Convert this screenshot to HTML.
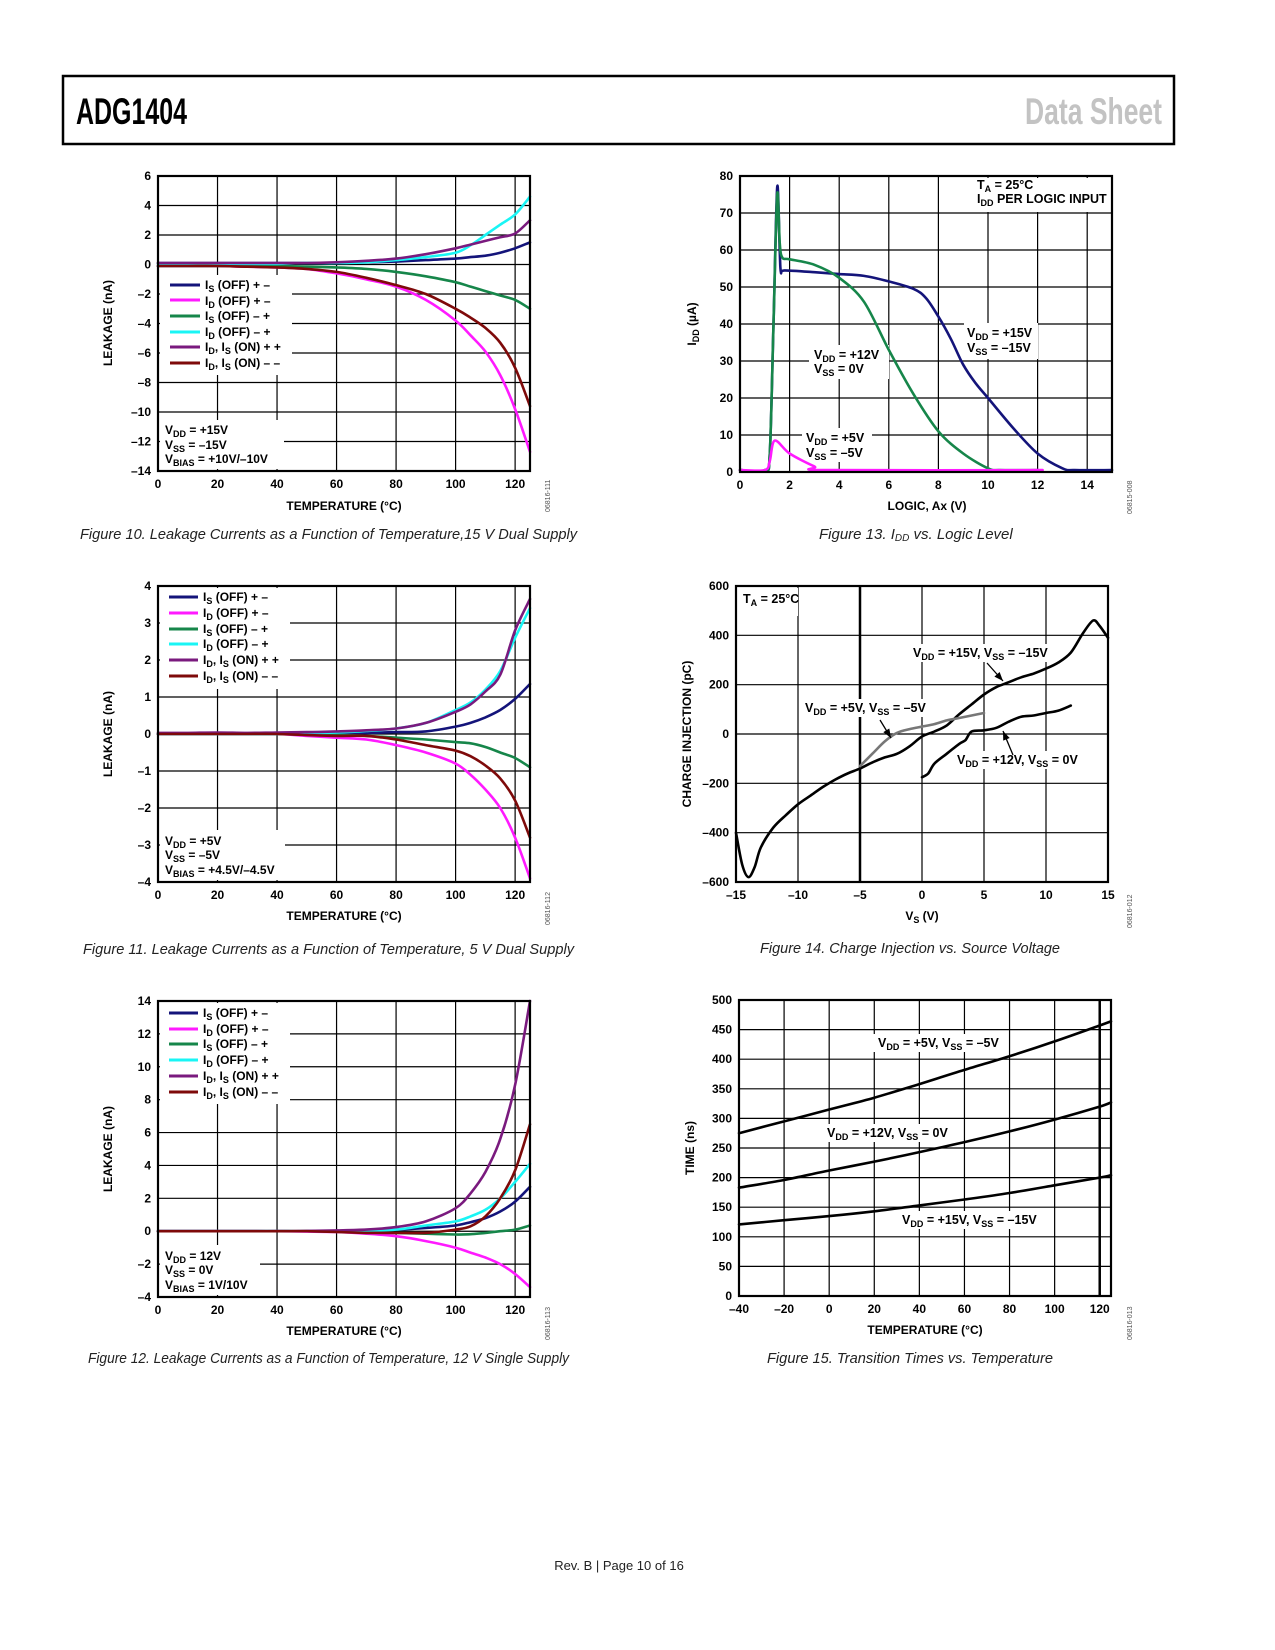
<!DOCTYPE html>
<html><head><meta charset="utf-8"><style>
html,body{margin:0;padding:0;background:#fff;}
svg{display:block;font-family:"Liberation Sans",sans-serif;}
.tk{font-size:12px;font-weight:bold;fill:#000;}
.at{font-size:12px;font-weight:bold;fill:#000;}
.lg{font-size:12px;font-weight:bold;fill:#000;}
.an{font-size:12.5px;font-weight:bold;fill:#000;}
.cap{font-size:15px;font-style:italic;fill:#222;}
.id{font-size:7px;fill:#555;}
</style></head><body>
<svg id="page" width="1275" height="1650" viewBox="0 0 1275 1650" xmlns="http://www.w3.org/2000/svg">
<rect x="0" y="0" width="1275" height="1650" fill="#fff"/>
<g>
<rect x="63" y="76" width="1111" height="68" fill="none" stroke="#000" stroke-width="2.5"/>
<text x="76" y="124" font-size="37" font-weight="bold" textLength="111" lengthAdjust="spacingAndGlyphs">ADG1404</text>
<text x="1025" y="124" font-size="37" font-weight="bold" fill="#c3c3c3" textLength="137" lengthAdjust="spacingAndGlyphs">Data Sheet</text>
</g>
<g id="charts"></g>
<g id="texts">
<!-- Fig 10 -->
<g>
<text class="lg" x="205" y="289">I<tspan font-size="9" dy="3">S</tspan><tspan dy="-3"> (OFF) + –</tspan></text>
<text class="lg" x="205" y="305">I<tspan font-size="9" dy="3">D</tspan><tspan dy="-3"> (OFF) + –</tspan></text>
<text class="lg" x="205" y="320">I<tspan font-size="9" dy="3">S</tspan><tspan dy="-3"> (OFF) – +</tspan></text>
<text class="lg" x="205" y="336">I<tspan font-size="9" dy="3">D</tspan><tspan dy="-3"> (OFF) – +</tspan></text>
<text class="lg" x="205" y="351">I<tspan font-size="9" dy="3">D</tspan><tspan dy="-3">, I</tspan><tspan font-size="9" dy="3">S</tspan><tspan dy="-3"> (ON) + +</tspan></text>
<text class="lg" x="205" y="367">I<tspan font-size="9" dy="3">D</tspan><tspan dy="-3">, I</tspan><tspan font-size="9" dy="3">S</tspan><tspan dy="-3"> (ON) – –</tspan></text>
</g>
<g>
<text class="lg" x="165" y="434">V<tspan font-size="9" dy="3">DD</tspan><tspan dy="-3"> = +15V</tspan></text>
<text class="lg" x="165" y="449">V<tspan font-size="9" dy="3">SS</tspan><tspan dy="-3"> = –15V</tspan></text>
<text class="lg" x="165" y="463">V<tspan font-size="9" dy="3">BIAS</tspan><tspan dy="-3"> = +10V/–10V</tspan></text>
</g>
<text class="at" x="344" y="510" text-anchor="middle">TEMPERATURE (°C)</text>
<text class="at" transform="translate(112,323) rotate(-90)" text-anchor="middle">LEAKAGE (nA)</text>
<text class="id" x="0" y="0" transform="translate(550,512) rotate(-90)">06816-111</text>
<text class="cap" x="80" y="539" textLength="497" lengthAdjust="spacingAndGlyphs">Figure 10. Leakage Currents as a Function of Temperature,15 V Dual Supply</text>

<!-- Fig 11 -->
<g>
<text class="lg" x="203" y="601">I<tspan font-size="9" dy="3">S</tspan><tspan dy="-3"> (OFF) + –</tspan></text>
<text class="lg" x="203" y="617">I<tspan font-size="9" dy="3">D</tspan><tspan dy="-3"> (OFF) + –</tspan></text>
<text class="lg" x="203" y="633">I<tspan font-size="9" dy="3">S</tspan><tspan dy="-3"> (OFF) – +</tspan></text>
<text class="lg" x="203" y="648">I<tspan font-size="9" dy="3">D</tspan><tspan dy="-3"> (OFF) – +</tspan></text>
<text class="lg" x="203" y="664">I<tspan font-size="9" dy="3">D</tspan><tspan dy="-3">, I</tspan><tspan font-size="9" dy="3">S</tspan><tspan dy="-3"> (ON) + +</tspan></text>
<text class="lg" x="203" y="680">I<tspan font-size="9" dy="3">D</tspan><tspan dy="-3">, I</tspan><tspan font-size="9" dy="3">S</tspan><tspan dy="-3"> (ON) – –</tspan></text>
</g>
<g>
<text class="lg" x="165" y="845">V<tspan font-size="9" dy="3">DD</tspan><tspan dy="-3"> = +5V</tspan></text>
<text class="lg" x="165" y="859">V<tspan font-size="9" dy="3">SS</tspan><tspan dy="-3"> = –5V</tspan></text>
<text class="lg" x="165" y="874">V<tspan font-size="9" dy="3">BIAS</tspan><tspan dy="-3"> = +4.5V/–4.5V</tspan></text>
</g>
<text class="at" x="344" y="920" text-anchor="middle">TEMPERATURE (°C)</text>
<text class="at" transform="translate(112,734) rotate(-90)" text-anchor="middle">LEAKAGE (nA)</text>
<text class="id" transform="translate(550,925) rotate(-90)">06816-112</text>
<text class="cap" x="83" y="954" textLength="491" lengthAdjust="spacingAndGlyphs">Figure 11. Leakage Currents as a Function of Temperature, 5 V Dual Supply</text>

<!-- Fig 12 -->
<g>
<text class="lg" x="203" y="1017">I<tspan font-size="9" dy="3">S</tspan><tspan dy="-3"> (OFF) + –</tspan></text>
<text class="lg" x="203" y="1033">I<tspan font-size="9" dy="3">D</tspan><tspan dy="-3"> (OFF) + –</tspan></text>
<text class="lg" x="203" y="1048">I<tspan font-size="9" dy="3">S</tspan><tspan dy="-3"> (OFF) – +</tspan></text>
<text class="lg" x="203" y="1064">I<tspan font-size="9" dy="3">D</tspan><tspan dy="-3"> (OFF) – +</tspan></text>
<text class="lg" x="203" y="1080">I<tspan font-size="9" dy="3">D</tspan><tspan dy="-3">, I</tspan><tspan font-size="9" dy="3">S</tspan><tspan dy="-3"> (ON) + +</tspan></text>
<text class="lg" x="203" y="1096">I<tspan font-size="9" dy="3">D</tspan><tspan dy="-3">, I</tspan><tspan font-size="9" dy="3">S</tspan><tspan dy="-3"> (ON) – –</tspan></text>
</g>
<g>
<text class="lg" x="165" y="1260">V<tspan font-size="9" dy="3">DD</tspan><tspan dy="-3"> = 12V</tspan></text>
<text class="lg" x="165" y="1274">V<tspan font-size="9" dy="3">SS</tspan><tspan dy="-3"> = 0V</tspan></text>
<text class="lg" x="165" y="1289">V<tspan font-size="9" dy="3">BIAS</tspan><tspan dy="-3"> = 1V/10V</tspan></text>
</g>
<text class="at" x="344" y="1335" text-anchor="middle">TEMPERATURE (°C)</text>
<text class="at" transform="translate(112,1149) rotate(-90)" text-anchor="middle">LEAKAGE (nA)</text>
<text class="id" transform="translate(550,1340) rotate(-90)">06816-113</text>
<text class="cap" x="88" y="1363" textLength="481" lengthAdjust="spacingAndGlyphs">Figure 12. Leakage Currents as a Function of Temperature, 12 V Single Supply</text>

<!-- Fig 13 -->
<g>
<text class="an" x="977" y="189">T<tspan font-size="9" dy="3">A</tspan><tspan dy="-3"> = 25°C</tspan></text>
<text class="an" x="977" y="203">I<tspan font-size="9" dy="3">DD</tspan><tspan dy="-3"> PER LOGIC INPUT</tspan></text>
<text class="an" x="967" y="337">V<tspan font-size="9" dy="3">DD</tspan><tspan dy="-3"> = +15V</tspan></text>
<text class="an" x="967" y="352">V<tspan font-size="9" dy="3">SS</tspan><tspan dy="-3"> = –15V</tspan></text>
<text class="an" x="814" y="359">V<tspan font-size="9" dy="3">DD</tspan><tspan dy="-3"> = +12V</tspan></text>
<text class="an" x="814" y="373">V<tspan font-size="9" dy="3">SS</tspan><tspan dy="-3"> = 0V</tspan></text>
<text class="an" x="806" y="442">V<tspan font-size="9" dy="3">DD</tspan><tspan dy="-3"> = +5V</tspan></text>
<text class="an" x="806" y="457">V<tspan font-size="9" dy="3">SS</tspan><tspan dy="-3"> = –5V</tspan></text>
</g>
<text class="at" x="927" y="510" text-anchor="middle">LOGIC, Ax (V)</text>
<text class="at" transform="translate(696,324) rotate(-90)" text-anchor="middle">I<tspan font-size="9" dy="3">DD</tspan><tspan dy="-3"> (µA)</tspan></text>
<text class="id" transform="translate(1132,514) rotate(-90)">06815-008</text>
<text class="cap" x="819" y="539">Figure 13. I<tspan font-size="10" dy="2">DD</tspan><tspan dy="-2"> vs. Logic Level</tspan></text>

<!-- Fig 14 -->
<g>
<text class="an" x="743" y="603">T<tspan font-size="9" dy="3">A</tspan><tspan dy="-3"> = 25°C</tspan></text>
<text class="an" x="913" y="657">V<tspan font-size="9" dy="3">DD</tspan><tspan dy="-3"> = +15V, V</tspan><tspan font-size="9" dy="3">SS</tspan><tspan dy="-3"> = –15V</tspan></text>
<text class="an" x="805" y="712">V<tspan font-size="9" dy="3">DD</tspan><tspan dy="-3"> = +5V, V</tspan><tspan font-size="9" dy="3">SS</tspan><tspan dy="-3"> = –5V</tspan></text>
<text class="an" x="957" y="764">V<tspan font-size="9" dy="3">DD</tspan><tspan dy="-3"> = +12V, V</tspan><tspan font-size="9" dy="3">SS</tspan><tspan dy="-3"> = 0V</tspan></text>
</g>
<text class="at" x="922" y="920" text-anchor="middle">V<tspan font-size="9" dy="3">S</tspan><tspan dy="-3"> (V)</tspan></text>
<text class="at" transform="translate(691,734) rotate(-90)" text-anchor="middle">CHARGE INJECTION (pC)</text>
<text class="id" transform="translate(1132,928) rotate(-90)">06816-012</text>
<text class="cap" x="760" y="953" textLength="300" lengthAdjust="spacingAndGlyphs">Figure 14. Charge Injection vs. Source Voltage</text>

<!-- Fig 15 -->
<g>
<text class="an" x="878" y="1047">V<tspan font-size="9" dy="3">DD</tspan><tspan dy="-3"> = +5V, V</tspan><tspan font-size="9" dy="3">SS</tspan><tspan dy="-3"> = –5V</tspan></text>
<text class="an" x="827" y="1137">V<tspan font-size="9" dy="3">DD</tspan><tspan dy="-3"> = +12V, V</tspan><tspan font-size="9" dy="3">SS</tspan><tspan dy="-3"> = 0V</tspan></text>
<text class="an" x="902" y="1224">V<tspan font-size="9" dy="3">DD</tspan><tspan dy="-3"> = +15V, V</tspan><tspan font-size="9" dy="3">SS</tspan><tspan dy="-3"> = –15V</tspan></text>
</g>
<text class="at" x="925" y="1334" text-anchor="middle">TEMPERATURE (°C)</text>
<text class="at" transform="translate(694,1148) rotate(-90)" text-anchor="middle">TIME (ns)</text>
<text class="id" transform="translate(1132,1340) rotate(-90)">06816-013</text>
<text class="cap" x="767" y="1363" textLength="286" lengthAdjust="spacingAndGlyphs">Figure 15. Transition Times vs. Temperature</text>

<text x="619" y="1570" font-size="13" fill="#222" text-anchor="middle">Rev. B | Page 10 of 16</text>
</g>
</svg>
<script>
// ---- Leakage charts data (temperature °C) ----
const leakTemps = [0,10,20,30,40,50,60,70,80,90,100,105,110,115,120,125];
const f10_isOffPM = [0.1,0.1,0.1,0.1,0.1,0.1,0.1,0.15,0.2,0.3,0.4,0.5,0.6,0.8,1.1,1.5];
const f10_idOffPM = [-0.1,-0.1,-0.1,-0.15,-0.2,-0.3,-0.6,-1.0,-1.5,-2.4,-3.8,-4.8,-5.9,-7.5,-9.8,-12.7];
const f10_isOffMP = [-0.1,-0.1,-0.1,-0.1,-0.1,-0.15,-0.2,-0.3,-0.5,-0.8,-1.2,-1.5,-1.8,-2.1,-2.4,-3.0];
const f10_idOffMP = [0.05,0.05,0.05,0.05,0.05,0.1,0.1,0.15,0.3,0.5,0.8,1.3,2.0,2.7,3.4,4.6];
const f10_onPP = [0.1,0.1,0.1,0.1,0.1,0.1,0.15,0.25,0.4,0.7,1.1,1.35,1.6,1.85,2.1,3.0];
const f10_onMM = [-0.1,-0.1,-0.1,-0.15,-0.2,-0.3,-0.5,-0.9,-1.4,-2.0,-3.0,-3.6,-4.3,-5.3,-7.0,-9.6];

const f11_isOffPM = [0,0,0,0,0,0,0.02,0.03,0.05,0.07,0.2,0.3,0.45,0.65,0.95,1.35];
const f11_idOffPM = [0,0,0,0,0,-0.05,-0.1,-0.15,-0.3,-0.5,-0.8,-1.1,-1.5,-2.0,-2.8,-3.9];
const f11_isOffMP = [0,0,0,0,0,-0.02,-0.03,-0.05,-0.1,-0.15,-0.22,-0.25,-0.35,-0.5,-0.65,-0.9];
const f11_idOffMP = [0,0,0,0,0,0.02,0.04,0.08,0.15,0.3,0.65,0.85,1.2,1.7,2.6,3.4];
const f11_onPP = [0.03,0.03,0.04,0.03,0.04,0.05,0.07,0.1,0.15,0.3,0.6,0.8,1.15,1.6,2.8,3.65];
const f11_onMM = [0,0,0,0,0,-0.03,-0.05,-0.05,-0.15,-0.3,-0.45,-0.6,-0.85,-1.2,-1.8,-2.8];

const f12_isOffPM = [0,0,0,0,0,0,0.02,0.05,0.1,0.2,0.35,0.55,0.8,1.2,1.8,2.7];
const f12_idOffPM = [0,0,0,0,0,-0.02,-0.05,-0.15,-0.3,-0.6,-1.0,-1.3,-1.6,-2.0,-2.6,-3.4];
const f12_isOffMP = [0,0,0,0,0,0,-0.02,-0.05,-0.1,-0.15,-0.2,-0.18,-0.1,0,0.1,0.35];
const f12_idOffMP = [0,0,0,0,0,0,0.02,0.05,0.1,0.35,0.6,0.9,1.3,2.0,3.0,4.1];
const f12_onPP = [0,0,0,0,0,0.02,0.05,0.1,0.25,0.6,1.4,2.3,3.6,5.6,8.9,14];
const f12_onMM = [0,0,0,0,0,0,-0.05,-0.1,-0.1,-0.1,0.1,0.3,0.9,2.0,3.7,6.5];

const leakTempTicks = [0,20,40,60,80,100,120];
const f10_yTicks = [-14,-12,-10,-8,-6,-4,-2,0,2,4,6];
const f11_yTicks = [-4,-3,-2,-1,0,1,2,3,4];
const f12_yTicks = [-4,-2,0,2,4,6,8,10,12,14];

// ---- Fig 13 IDD vs logic ----
const f13_x15 = [0,1.0,1.2,1.35,1.5,1.6,1.65,1.8,3,4,5,6,7,7.5,8,8.5,9,9.5,10,11,12,13,13.5,15];
const f13_y15 = [0.5,0.5,5,40,77,60,54,54.5,54,53.5,53,51.5,49.5,47,42,36,29,24,20,12,5,1,0.5,0.5];
const f13_x12 = [0,1.0,1.2,1.35,1.5,1.6,1.7,2,3,4,5,6,7,8,9,10,10.5,12];
const f13_y12 = [0.5,0.5,5,40,75,62,58,57.5,56,52.5,46,33,21,11,5,1,0.5,0.5];
const f13_x5 = [0,1,1.2,1.4,2,3,3.5,12.2];
const f13_y5 = [0.5,0.5,3,8.5,5,1.5,0.5,0.5];
const f13_xTicks = [0,2,4,6,8,10,12,14];
const f13_yTicks = [0,10,20,30,40,50,60,70,80];

// ---- Fig 14 charge injection ----
const f14_x15 = [-15,-14.5,-14,-13.5,-13,-12,-11,-10,-9,-8,-7,-6,-5,-4,-3,-2,-1,0,1,2,3,4,5,6,7,8,9,10,11,12,13,13.8,14.3,15];
const f14_y15 = [-400,-530,-580,-540,-460,-380,-330,-285,-250,-215,-185,-160,-140,-115,-95,-80,-50,-10,10,35,80,120,160,190,210,230,245,265,290,330,410,460,440,390];
const f14_x5 = [-5,-4,-3,-2,-1,0,1,2,3,4,5];
const f14_y5 = [-130,-80,-30,5,20,30,40,55,65,75,85];
const f14_x12 = [0,0.5,1,2,3,3.5,4,5,6,7,8,9,10,11,12];
const f14_y12 = [-175,-160,-120,-80,-40,-25,10,15,25,50,70,75,85,95,115];
const f14_xTicks = [-15,-10,-5,0,5,10,15];
const f14_yTicks = [-600,-400,-200,0,200,400,600];

// ---- Fig 15 transition times ----
const f15_temps = [-40,-20,0,20,40,60,80,100,120,125];
const f15_t5 = [275,295,315,335,358,382,405,430,457,464];
const f15_t12 = [183,196,212,227,243,260,278,298,320,327];
const f15_t15 = [121,128,135,143,153,163,174,187,200,204];
const f15_xTicks = [-40,-20,0,20,40,60,80,100,120];
const f15_yTicks = [0,50,100,150,200,250,300,350,400,450,500];

const NS = 'http://www.w3.org/2000/svg';
const root = document.getElementById('charts');
const C = {navy:'#14147a', mag:'#ff1aff', green:'#16864a', cyan:'#19f5f5', purple:'#7a1a7e', maroon:'#7e0a0a', black:'#000', gray:'#777'};

function mk(tag, attrs, parent){
  const e = document.createElementNS(NS, tag);
  for (const k in attrs) e.setAttribute(k, attrs[k]);
  (parent||root).appendChild(e);
  return e;
}
function smoothPath(pts){
  let d = 'M' + pts[0][0].toFixed(1) + ',' + pts[0][1].toFixed(1);
  for (let i=0;i<pts.length-1;i++){
    const p0 = pts[Math.max(0,i-1)], p1 = pts[i], p2 = pts[i+1], p3 = pts[Math.min(pts.length-1,i+2)];
    const t = 0.16;
    const c1 = [p1[0]+(p2[0]-p0[0])*t, p1[1]+(p2[1]-p0[1])*t];
    const c2 = [p2[0]-(p3[0]-p1[0])*t, p2[1]-(p3[1]-p1[1])*t];
    d += ' C'+c1[0].toFixed(1)+','+c1[1].toFixed(1)+' '+c2[0].toFixed(1)+','+c2[1].toFixed(1)+' '+p2[0].toFixed(1)+','+p2[1].toFixed(1);
  }
  return d;
}

function chart(cfg){
  const g = mk('g', {});
  
  
  const sx = v => cfg.x0 + (v - cfg.xmin) / (cfg.xmax - cfg.xmin) * (cfg.x1 - cfg.x0);
  const sy = v => cfg.y1 - (v - cfg.ymin) / (cfg.ymax - cfg.ymin) * (cfg.y1 - cfg.y0);
  // grid
  cfg.xTicks.forEach(v => {
    const ln = mk('line', {x1:sx(v), x2:sx(v), y1:cfg.y0, y2:cfg.y1, stroke:'#000', 'stroke-width': (cfg.thickX===v?2.5:1.2)}, g);
    
    
    const t = mk('text', {x:sx(v), y:cfg.y1+17, 'text-anchor':'middle', class:'tk'}, g);
    
    
    t.textContent = String(v).replace('-', '–');
  });
  cfg.yTicks.forEach(v => {
    const ln = mk('line', {x1:cfg.x0, x2:cfg.x1, y1:sy(v), y2:sy(v), stroke:'#000', 'stroke-width':1.2}, g);
    
    
    const t = mk('text', {x:cfg.x0-7, y:sy(v)+4, 'text-anchor':'end', class:'tk'}, g);
    
    
    t.textContent = String(v).replace('-', '–');
  });
  // white boxes behind text
  (cfg.boxes||[]).forEach(b => {
    const r = mk('rect', {x:b[0], y:b[1], width:b[2], height:b[3], fill:'#fff'}, g);
    
    
  });
  // series
  cfg.series.forEach(s => {
    const pts = s.x.map((xv,i) => [sx(xv), sy(s.y[i])]);
    const p = mk('path', {d:smoothPath(pts), fill:'none', stroke:s.color, 'stroke-width':s.w||2.6, 'stroke-linejoin':'round', 'stroke-linecap':'round'}, g);
    
    
  });
  // legend swatches
  (cfg.legend||[]).forEach(l => {
    const ln = mk('line', {x1:l[0], x2:l[1], y1:l[2], y2:l[2], stroke:l[3], 'stroke-width':3}, g);
    
    
  });
  // arrows
  (cfg.arrows||[]).forEach(a => {
    const ln = mk('line', {x1:a[0], y1:a[1], x2:a[2], y2:a[3], stroke:'#000', 'stroke-width':1.3}, g);
    
    
    const ang = Math.atan2(a[3]-a[1], a[2]-a[0]);
    const L = 9, W = 3.5;
    const bx = a[2]-L*Math.cos(ang), by = a[3]-L*Math.sin(ang);
    const hd = mk('polygon', {points: a[2]+','+a[3]+' '+(bx+W*Math.sin(ang))+','+(by-W*Math.cos(ang))+' '+(bx-W*Math.sin(ang))+','+(by+W*Math.cos(ang)), fill:'#000'}, g);
    
    
  });
  const fr = mk('rect', {x:cfg.x0, y:cfg.y0, width:cfg.x1-cfg.x0, height:cfg.y1-cfg.y0, fill:'none', stroke:'#000', 'stroke-width':2.2}, g);
  
  
}

function leakSeries(a,b,c,d,e,f){
  return [
    {name:'is-off-plus-minus', x:leakTemps, y:a, color:C.navy},
    {name:'id-off-plus-minus', x:leakTemps, y:b, color:C.mag},
    {name:'is-off-minus-plus', x:leakTemps, y:c, color:C.green},
    {name:'id-off-minus-plus', x:leakTemps, y:d, color:C.cyan},
    {name:'id-is-on-plus-plus', x:leakTemps, y:e, color:C.purple},
    {name:'id-is-on-minus-minus', x:leakTemps, y:f, color:C.maroon}
  ];
}
const legCols = [C.navy, C.mag, C.green, C.cyan, C.purple, C.maroon];
function legendLines(x1,x2,ys){ return ys.map((y,i)=>[x1,x2,y,legCols[i]]); }

chart({name:'fig10-chart', x0:158, x1:530, y0:176, y1:471, xmin:0, xmax:125, ymin:-14, ymax:6,
  xTicks:leakTempTicks, yTicks:f10_yTicks,
  boxes:[[160,275,132,100],[160,420,124,49]],
  series:leakSeries(f10_isOffPM,f10_idOffPM,f10_isOffMP,f10_idOffMP,f10_onPP,f10_onMM),
  legend:legendLines(170,200,[285,300,316,332,347,363])});
chart({name:'fig11-chart', x0:158, x1:530, y0:586, y1:882, xmin:0, xmax:125, ymin:-4, ymax:4,
  xTicks:leakTempTicks, yTicks:f11_yTicks,
  boxes:[[160,588,130,101],[160,830,125,50]],
  series:leakSeries(f11_isOffPM,f11_idOffPM,f11_isOffMP,f11_idOffMP,f11_onPP,f11_onMM),
  legend:legendLines(169,198,[597,613,629,644,660,676])});
chart({name:'fig12-chart', x0:158, x1:530, y0:1001, y1:1297, xmin:0, xmax:125, ymin:-4, ymax:14,
  xTicks:leakTempTicks, yTicks:f12_yTicks,
  boxes:[[160,1003,130,101],[160,1245,100,50]],
  series:leakSeries(f12_isOffPM,f12_idOffPM,f12_isOffMP,f12_idOffMP,f12_onPP,f12_onMM),
  legend:legendLines(169,198,[1013,1029,1044,1060,1076,1092])});
chart({name:'fig13-chart', x0:740, x1:1112, y0:176, y1:472, xmin:0, xmax:15, ymin:0, ymax:80,
  xTicks:f13_xTicks, yTicks:f13_yTicks,
  boxes:[[966,178,144,34],[964,323,74,36],[809,345,80,34],[802,428,70,34]],
  series:[
    {name:'idd-vdd15-vss-15', x:f13_x15, y:f13_y15, color:C.navy},
    {name:'idd-vdd12-vss0', x:f13_x12, y:f13_y12, color:C.green},
    {name:'idd-vdd5-vss-5', x:f13_x5, y:f13_y5, color:C.mag}
  ]});
chart({name:'fig14-chart', x0:736, x1:1108, y0:586, y1:882, xmin:-15, xmax:15, ymin:-600, ymax:600,
  xTicks:f14_xTicks, yTicks:f14_yTicks, thickX:-5,
  boxes:[[738,588,60,28],[908,644,146,18],[800,699,132,18],[952,751,132,18]],
  series:[
    {name:'qinj-vdd15-vss-15', x:f14_x15, y:f14_y15, color:C.black},
    {name:'qinj-vdd5-vss-5', x:f14_x5, y:f14_y5, color:C.gray},
    {name:'qinj-vdd12-vss0', x:f14_x12, y:f14_y12, color:C.black}
  ],
  arrows:[[987,663,1003,681],[880,720,891,738],[1013,755,1003,731]]});
chart({name:'fig15-chart', x0:739, x1:1111, y0:1000, y1:1296, xmin:-40, xmax:125, ymin:0, ymax:500,
  xTicks:f15_xTicks, yTicks:f15_yTicks, thickX:120,
  boxes:[[873,1034,134,18],[822,1124,134,18],[897,1211,145,18]],
  series:[
    {name:'time-vdd5-vss-5', x:f15_temps, y:f15_t5, color:C.black},
    {name:'time-vdd12-vss0', x:f15_temps, y:f15_t12, color:C.black},
    {name:'time-vdd15-vss-15', x:f15_temps, y:f15_t15, color:C.black}
  ]});
</script>
</body></html>
